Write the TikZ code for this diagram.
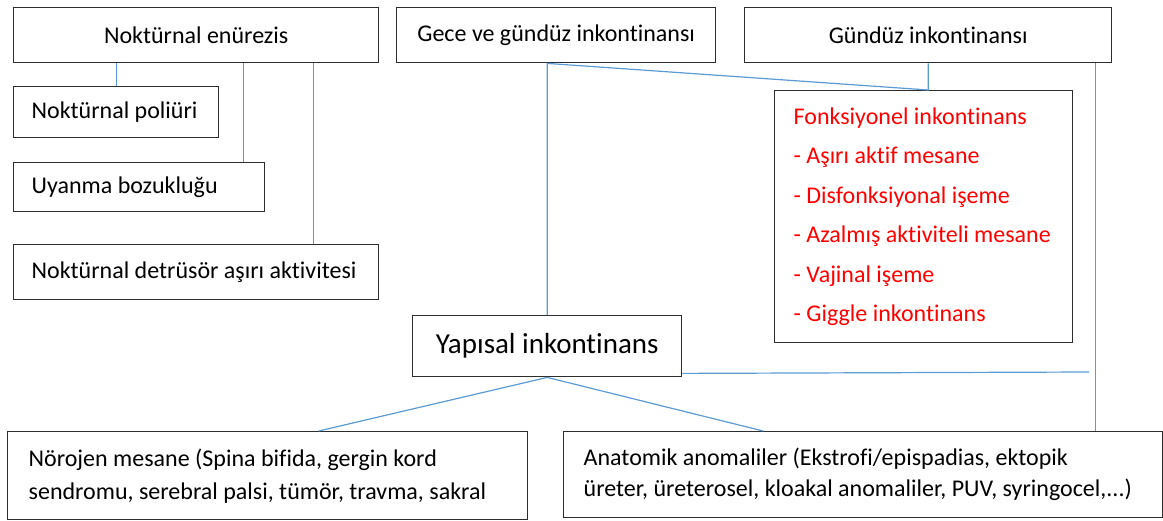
\documentclass[tikz,border=0pt]{standalone}
\usepackage{fontspec}
\setmainfont{Carlito}[Ligatures=NoCommon]
\usepackage{tikz}
\definecolor{line-blue}{RGB}{91,155,213}
\definecolor{box-gray}{RGB}{45,45,45}
\definecolor{text-red}{RGB}{255,0,0}
\tikzset{
  kutu/.style={draw=box-gray, line width=0.7pt, anchor=north west, inner sep=0pt,
    font=\fontsize{12}{16}\selectfont},
  ortakutu/.style={kutu, align=center},
  solkutu/.style={kutu, align=flush left, inner xsep=9pt},
  baglanti/.style={draw=line-blue, line width=0.6pt}
}

\begin{document}
\begin{tikzpicture}[x=0.5pt,y=-0.5pt]
   \useasboundingbox (0,0) rectangle (1163,520);
   % top row
   \node[ortakutu, minimum width=182.5pt, minimum height=27.5pt] (enurezis) at (13,7) {Noktürnal enürezis};
   \node[ortakutu, minimum width=159.5pt, minimum height=27.5pt] (gece) at (396,7) {Gece ve gündüz inkontinansı};
   \node[ortakutu, minimum width=183.5pt, minimum height=27.5pt] (gunduz) at (744,7) {Gündüz inkontinansı};
   % left column
   \node[solkutu, text width=84.5pt, minimum height=25.5pt] (poliuri) at (13,86) {Noktürnal poliüri};
   \node[solkutu, text width=107.5pt, minimum height=24.5pt] (uyanma) at (13,162) {Uyanma bozukluğu};
   \node[solkutu, text width=164.5pt, minimum height=27.5pt] (detrusor) at (13,244) {Noktürnal detrüsör aşırı aktivitesi};
   % functional
   \node[solkutu, inner xsep=9.5pt, text width=130pt, minimum height=126pt, text=text-red,
     font=\fontsize{12}{19.7}\selectfont] (fonksiyonel) at (774,90)
     {Fonksiyonel inkontinans\\- Aşırı aktif mesane\\- Disfonksiyonal işeme\\- Azalmış aktiviteli mesane\\- Vajinal işeme\\- Giggle inkontinans};
   % structural
   \node[ortakutu, minimum width=134.5pt, minimum height=30.5pt, font=\fontsize{14.5}{17}\selectfont] (yapisal) at (412,315) {Yapısal inkontinans};
   \node[solkutu, inner xsep=10.5pt, text width=239pt, minimum height=44pt,
     font=\fontsize{12}{16.5}\selectfont] (norojen) at (7,431)
     {Nörojen mesane (Spina bifida, gergin kord\\sendromu, serebral palsi, tümör, travma, sakral};
   \node[solkutu, inner xsep=10pt, text width=279.5pt, minimum height=43pt,
     font=\fontsize{12}{15.5}\selectfont] (anatomik) at (563,431)
     {Anatomik anomaliler (Ekstrofi/epispadias, ektopik\\üreter, üreterosel, kloakal anomaliler, PUV, syringocel,...)};
   \coordinate (yatay) at (1089,372);

   % connectors
   \draw[baglanti] (poliuri.north) -- (poliuri.north |- enurezis.south);
   \draw[baglanti] ([xshift=-11pt]uyanma.north east) -- ([xshift=-11pt]uyanma.north east |- enurezis.south);
   \draw[baglanti] ([xshift=-33pt]detrusor.north east) -- ([xshift=-33pt]detrusor.north east |- enurezis.south);
   \draw[baglanti] (yapisal.north) -- (yapisal.north |- gece.south) -- (gunduz.south |- fonksiyonel.north) -- (gunduz.south);
   \draw[baglanti] ([xshift=-8.5pt]gunduz.south east) -- ([xshift=-8.5pt]gunduz.south east |- anatomik.north);
   \draw[baglanti] ([yshift=2pt]yapisal.south east) -- (yatay);
   \draw[baglanti] (yapisal.south) -- ([xshift=25.5pt]norojen.north);
   \draw[baglanti] (yapisal.south) -- ([xshift=-50pt]anatomik.north);
\end{tikzpicture}
\end{document}
